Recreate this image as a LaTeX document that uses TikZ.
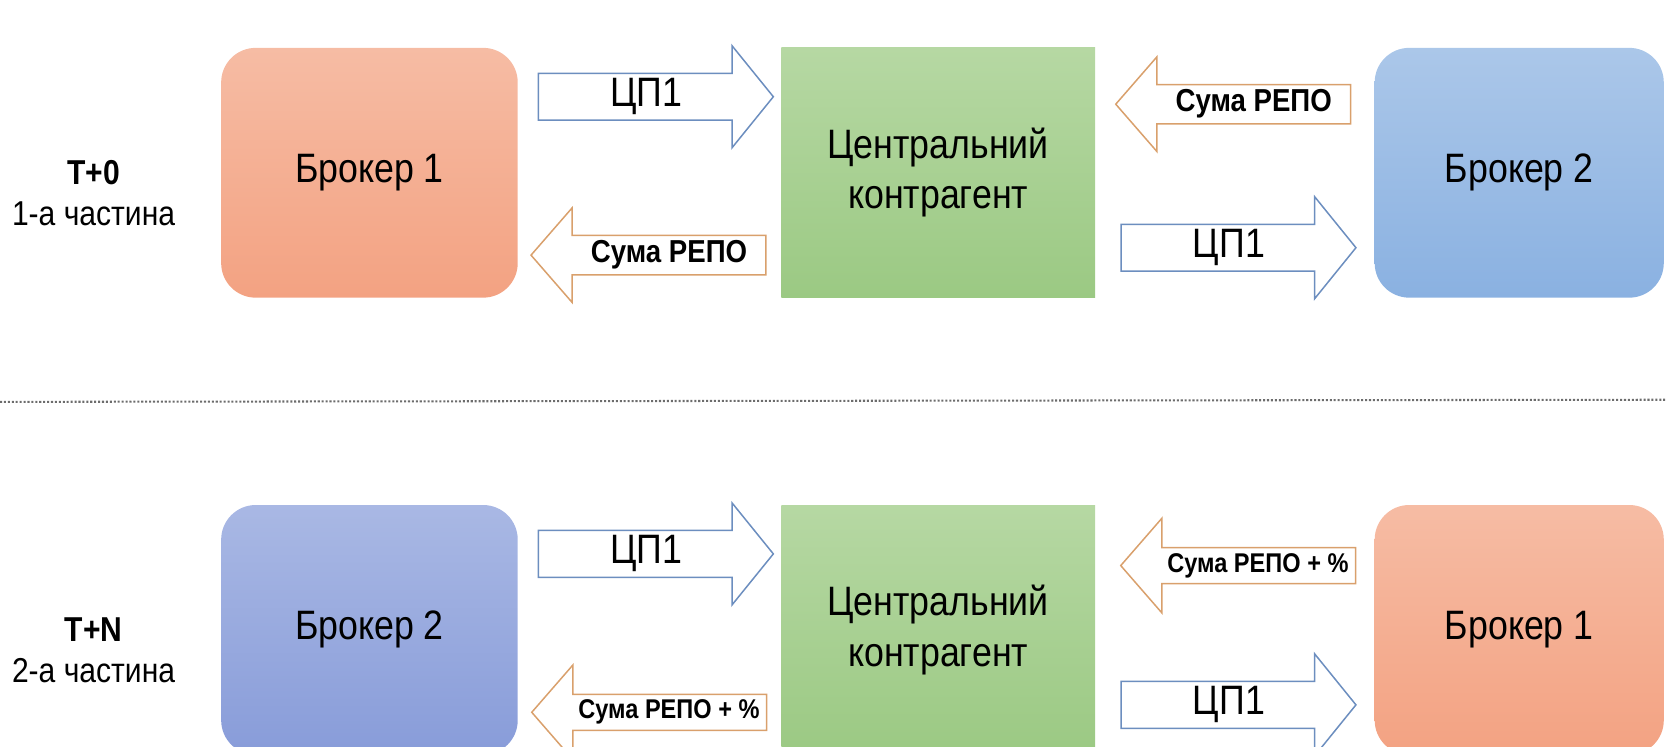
\documentclass[tikz,border=0pt]{standalone}
\usepackage{fontspec}
\setmainfont{Liberation Sans}[FakeStretch=0.87]
\usetikzlibrary{shapes.arrows,positioning}
\definecolor{salmonTop}{HTML}{F6BCA4}
\definecolor{salmonBot}{HTML}{F3A282}
\definecolor{greenTop}{HTML}{B6D8A3}
\definecolor{greenBot}{HTML}{9BC983}
\definecolor{skyTop}{HTML}{ABC7E9}
\definecolor{skyBot}{HTML}{8AB1E1}
\definecolor{lilacTop}{HTML}{A9B8E4}
\definecolor{lilacBot}{HTML}{889CD9}
\definecolor{arrBlue}{HTML}{6C8EBF}
\definecolor{arrOrange}{HTML}{D9A06C}
\begin{document}
\begin{tikzpicture}[x=0.02cm, y=-0.02cm,
    box/.style = {rounded corners=0.65cm, minimum width=5.58cm, minimum height=4.7cm,
                  font=\fontsize{22}{26}\selectfont, align=center},
    salmon/.style = {box, top color=salmonTop, bottom color=salmonBot},
    sky/.style = {box, top color=skyTop, bottom color=skyBot, minimum width=5.44cm},
    lilac/.style = {box, top color=lilacTop, bottom color=lilacBot},
    ccp/.style = {box, rounded corners=0pt, minimum width=5.9cm, top color=greenTop, bottom color=greenBot,
                  font=\fontsize{22}{27}\selectfont},
    flow/.style = {single arrow, draw, fill=white, line width=0.8pt, minimum height=4.42cm,
                   inner sep=0pt},
    paper/.style = {flow, draw=arrBlue, minimum width=1.92cm, single arrow head extend=0.42cm,
                    single arrow tip angle=102, font=\fontsize{22}{24}\selectfont},
    cash/.style = {flow, draw=arrOrange, shape border rotate=180, minimum width=1.78cm,
                   single arrow head extend=0.4cm, single arrow tip angle=98,
                   font=\bfseries\fontsize{17}{20}\selectfont},
    cashp/.style = {cash, font=\bfseries\fontsize{14.5}{17}\selectfont},
    phase/.style = {align=center, font=\fontsize{18.5}{22}\selectfont}
  ]
  \useasboundingbox (0,0) rectangle (1568,702);
  \clip (0,0) rectangle (1568,702);

  % T+0
  \node[phase] (ph1) at (88,182) {\textbf{T+0}\\1-а частина};
  \node[salmon] (b1t) at (347.5,162.5) {Брокер 1};
  \node[ccp] (cct) at (882.5,162.5) {Центральний\\контрагент};
  \node[sky] (b2t) at (1429,162.5) {Брокер 2};
  \node[paper] (p1t) at (608,91) {ЦП1};
  \node[cash] (m1t) at (618,240) {\hspace{0.45cm}Сума РЕПО};
  \node[cash] (m2t) at (1168,98) {\hspace{0.45cm}Сума РЕПО};
  \node[paper] (p2t) at (1156,233) {ЦП1};

  \coordinate (sepl) at (0,378);
  \coordinate (sepr) at (1568,376);
  \draw[gray!85!black, densely dotted, line width=1.1pt] (sepl) -- (sepr);

  % T+N
  \node[phase] (ph2) at (88,612) {\textbf{T+N}\\2-а частина};
  \node[lilac] (b2b) at (347.5,592.5) {Брокер 2};
  \node[ccp] (ccb) at (882.5,592.5) {Центральний\\контрагент};
  \node[salmon, minimum width=5.44cm] (b1b) at (1429,592.5) {Брокер 1};
  \node[paper] (p1b) at (608,521) {ЦП1};
  \node[cashp] (m1b) at (618,670) {\hspace{0.45cm}Сума РЕПО + \%};
  \node[cashp] (m2b) at (1172,532) {\hspace{0.45cm}Сума РЕПО + \%};
  \node[paper] (p2b) at (1156,663) {ЦП1};
\end{tikzpicture}
\end{document}
